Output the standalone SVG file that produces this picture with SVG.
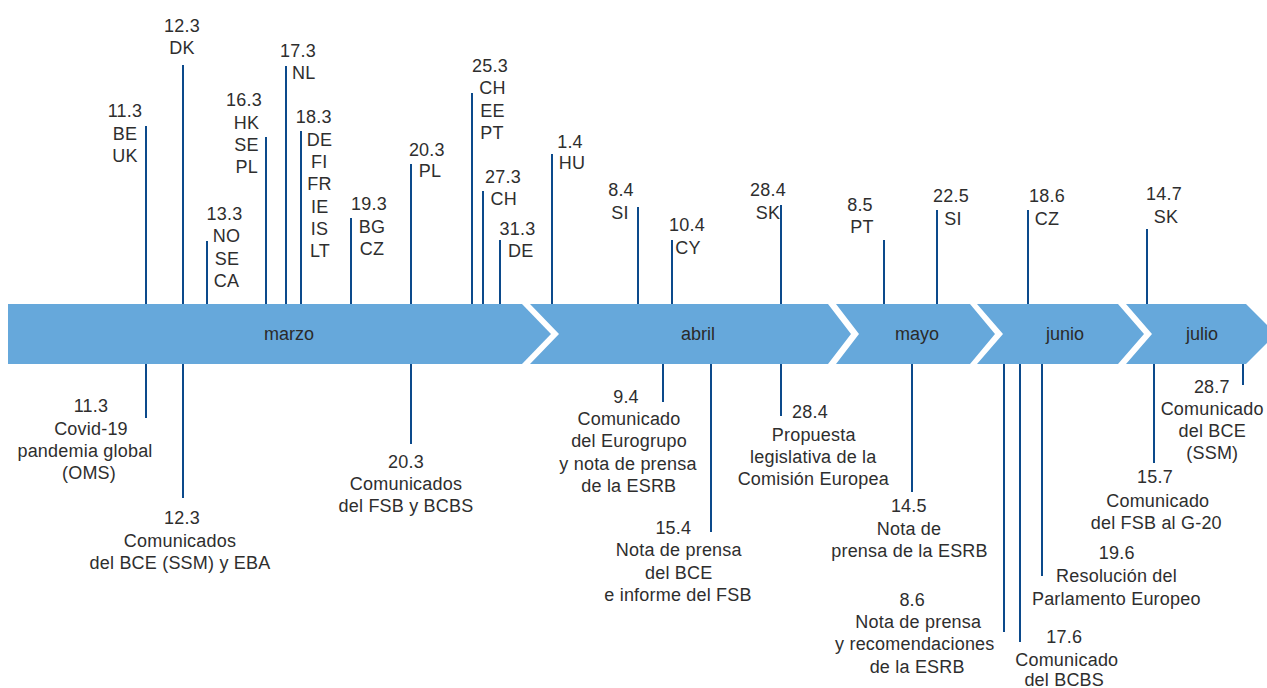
<svg xmlns="http://www.w3.org/2000/svg" width="1267" height="688" viewBox="0 0 1267 688">
<style>
.band{fill:#66a8db;}
.m{font-family:"Liberation Sans",Arial,sans-serif;font-size:18px;fill:#2a2a2a;text-anchor:middle;}
.t{font-family:"Liberation Sans",Arial,sans-serif;font-size:18px;fill:#2e2e2e;text-anchor:middle;letter-spacing:0.2px;}
.c line{stroke:#0c4a8b;stroke-width:2;}
</style>
<rect width="1267" height="688" fill="#ffffff"/>
<g id="months">
<g id="marzo"><path class="band" d="M8,304 H522 L551,334 L522,364 H8 Z"/><text class="m" x="289" y="340">marzo</text></g>
<g id="abril"><path class="band" d="M530,304 H828 L851,334 L828,364 H530 L559,334 Z"/><text class="m" x="698" y="340">abril</text></g>
<g id="mayo"><path class="band" d="M836,304 H970 L995,334 L970,364 H836 L859,334 Z"/><text class="m" x="917" y="340">mayo</text></g>
<g id="junio"><path class="band" d="M977,304 H1118 L1144,334 L1118,364 H977 L1003,334 Z"/><text class="m" x="1065" y="340">junio</text></g>
<g id="julio"><path class="band" d="M1126,304 H1246 L1276,334 L1246,364 H1126 L1152,334 Z"/><text class="m" x="1202" y="340">julio</text></g>
</g>
<g id="connectors" class="c">
<line x1="146" y1="126" x2="146" y2="304"/>
<line x1="183" y1="65" x2="183" y2="304"/>
<line x1="207" y1="241" x2="207" y2="304"/>
<line x1="266" y1="137" x2="266" y2="304"/>
<line x1="286" y1="66" x2="286" y2="304"/>
<line x1="301" y1="131" x2="301" y2="304"/>
<line x1="351" y1="218" x2="351" y2="304"/>
<line x1="411" y1="164" x2="411" y2="304"/>
<line x1="472" y1="93" x2="472" y2="304"/>
<line x1="483" y1="191" x2="483" y2="304"/>
<line x1="500" y1="240" x2="500" y2="304"/>
<line x1="552" y1="154" x2="552" y2="304"/>
<line x1="638" y1="207" x2="638" y2="304"/>
<line x1="672" y1="240" x2="672" y2="304"/>
<line x1="781" y1="205" x2="781" y2="304"/>
<line x1="884" y1="240" x2="884" y2="304"/>
<line x1="937" y1="210" x2="937" y2="304"/>
<line x1="1028" y1="210" x2="1028" y2="304"/>
<line x1="1147" y1="229" x2="1147" y2="304"/>
<line x1="146" y1="364" x2="146" y2="418"/>
<line x1="183" y1="364" x2="183" y2="498"/>
<line x1="411" y1="364" x2="411" y2="444"/>
<line x1="663" y1="364" x2="663" y2="402"/>
<line x1="711" y1="364" x2="711" y2="532"/>
<line x1="781" y1="364" x2="781" y2="416"/>
<line x1="912" y1="364" x2="912" y2="492"/>
<line x1="1004" y1="364" x2="1004" y2="632"/>
<line x1="1020" y1="364" x2="1020" y2="642"/>
<line x1="1042" y1="364" x2="1042" y2="576"/>
<line x1="1154" y1="364" x2="1154" y2="463"/>
<line x1="1243" y1="364" x2="1243" y2="385"/>
</g>
<g id="top-11-3"><text class="t" x="125" y="117">11.3</text><text class="t" x="125" y="139.5">BE</text><text class="t" x="125" y="162">UK</text></g>
<g id="top-12-3"><text class="t" x="182" y="32">12.3</text><text class="t" x="182" y="54">DK</text></g>
<g id="top-13-3"><text class="t" x="224.5" y="220">13.3</text><text class="t" x="226.5" y="242">NO</text><text class="t" x="227" y="264.5">SE</text><text class="t" x="226.5" y="286.5">CA</text></g>
<g id="top-16-3"><text class="t" x="244" y="106">16.3</text><text class="t" x="246.5" y="128.5">HK</text><text class="t" x="246.5" y="150.5">SE</text><text class="t" x="246.8" y="173">PL</text></g>
<g id="top-17-3"><text class="t" x="298" y="57">17.3</text><text class="t" x="303.7" y="78.5">NL</text></g>
<g id="top-18-3"><text class="t" x="313.7" y="123">18.3</text><text class="t" x="319.5" y="145.5">DE</text><text class="t" x="319.3" y="167.5">FI</text><text class="t" x="319.5" y="190">FR</text><text class="t" x="319.8" y="212.5">IE</text><text class="t" x="319.5" y="235">IS</text><text class="t" x="320" y="257">LT</text></g>
<g id="top-19-3"><text class="t" x="369" y="210">19.3</text><text class="t" x="372" y="232.5">BG</text><text class="t" x="372" y="255">CZ</text></g>
<g id="top-20-3"><text class="t" x="426.8" y="155.5">20.3</text><text class="t" x="430" y="177">PL</text></g>
<g id="top-25-3"><text class="t" x="490" y="72">25.3</text><text class="t" x="492.5" y="94">CH</text><text class="t" x="492.5" y="116.5">EE</text><text class="t" x="492" y="138.5">PT</text></g>
<g id="top-27-3"><text class="t" x="503" y="182.5">27.3</text><text class="t" x="503.8" y="204.5">CH</text></g>
<g id="top-31-3"><text class="t" x="517.5" y="235">31.3</text><text class="t" x="520.8" y="257">DE</text></g>
<g id="top-1-4"><text class="t" x="570" y="147.5">1.4</text><text class="t" x="572" y="168.5">HU</text></g>
<g id="top-8-4"><text class="t" x="621" y="196">8.4</text><text class="t" x="620" y="219">SI</text></g>
<g id="top-10-4"><text class="t" x="687" y="231">10.4</text><text class="t" x="688" y="254">CY</text></g>
<g id="top-28-4"><text class="t" x="768" y="196">28.4</text><text class="t" x="768" y="219">SK</text></g>
<g id="top-8-5"><text class="t" x="860" y="211">8.5</text><text class="t" x="862" y="233">PT</text></g>
<g id="top-22-5"><text class="t" x="951" y="202">22.5</text><text class="t" x="953" y="225">SI</text></g>
<g id="top-18-6"><text class="t" x="1047" y="202">18.6</text><text class="t" x="1047" y="225">CZ</text></g>
<g id="top-14-7"><text class="t" x="1164" y="200">14.7</text><text class="t" x="1166" y="223">SK</text></g>
<g id="bot-11-3"><text class="t" x="91" y="412">11.3</text><text class="t" x="91" y="435">Covid-19</text><text class="t" x="85" y="457">pandemia global</text><text class="t" x="89" y="479">(OMS)</text></g>
<g id="bot-12-3"><text class="t" x="182" y="524">12.3</text><text class="t" x="180" y="547">Comunicados</text><text class="t" x="180" y="569">del BCE (SSM) y EBA</text></g>
<g id="bot-20-3"><text class="t" x="406" y="468">20.3</text><text class="t" x="406" y="490">Comunicados</text><text class="t" x="406" y="512">del FSB y BCBS</text></g>
<g id="bot-9-4"><text class="t" x="626" y="403">9.4</text><text class="t" x="629" y="425">Comunicado</text><text class="t" x="629" y="447.3">del Eurogrupo</text><text class="t" x="628" y="470">y nota de prensa</text><text class="t" x="628.8" y="491.7">de la ESRB</text></g>
<g id="bot-15-4"><text class="t" x="673.3" y="534">15.4</text><text class="t" x="678.8" y="556">Nota de prensa</text><text class="t" x="678.7" y="579.3">del BCE</text><text class="t" x="678" y="600.7">e informe del FSB</text></g>
<g id="bot-28-4"><text class="t" x="810" y="418.3">28.4</text><text class="t" x="813.7" y="440.7">Propuesta</text><text class="t" x="813.3" y="462.7">legislativa de la</text><text class="t" x="813.3" y="485">Comisión Europea</text></g>
<g id="bot-14-5"><text class="t" x="908.8" y="512.3">14.5</text><text class="t" x="909" y="535.3">Nota de</text><text class="t" x="909.5" y="557.3">prensa de la ESRB</text></g>
<g id="bot-8-6"><text class="t" x="912.2" y="606">8.6</text><text class="t" x="918.3" y="628.3">Nota de prensa</text><text class="t" x="914.8" y="650">y recomendaciones</text><text class="t" x="917.2" y="672.7">de la ESRB</text></g>
<g id="bot-17-6"><text class="t" x="1064.2" y="642.7">17.6</text><text class="t" x="1066.8" y="666">Comunicado</text><text class="t" x="1064.2" y="686">del BCBS</text></g>
<g id="bot-19-6"><text class="t" x="1116.7" y="559.3">19.6</text><text class="t" x="1116.5" y="581.7">Resolución del</text><text class="t" x="1116.3" y="605">Parlamento Europeo</text></g>
<g id="bot-15-7"><text class="t" x="1155" y="483.3">15.7</text><text class="t" x="1157.8" y="506.7">Comunicado</text><text class="t" x="1156.3" y="529">del FSB al G-20</text></g>
<g id="bot-28-7"><text class="t" x="1211.8" y="392.7">28.7</text><text class="t" x="1212.2" y="415">Comunicado</text><text class="t" x="1212.2" y="437.3">del BCE</text><text class="t" x="1212.3" y="459.3">(SSM)</text></g>
</svg>
